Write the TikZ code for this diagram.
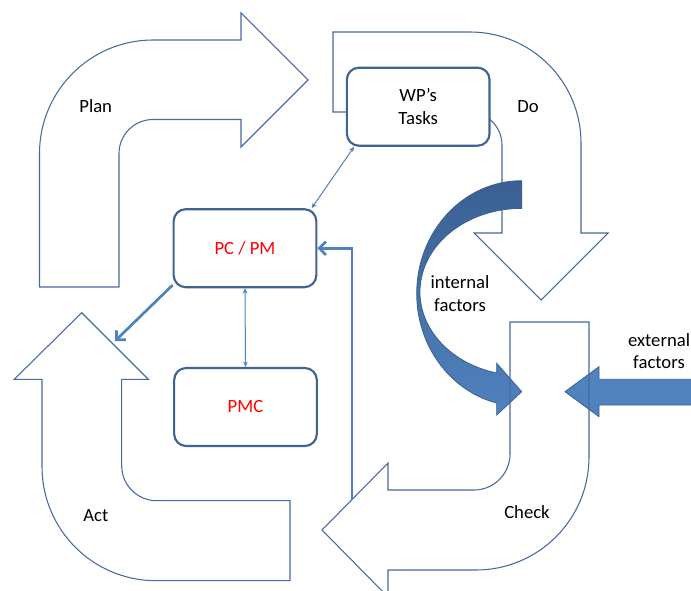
\documentclass[tikz,border=0pt]{standalone}
\usepackage{fontspec}
\setmainfont{Carlito}
\usetikzlibrary{arrows.meta}
\definecolor{flowline}{RGB}{70,106,158}
\definecolor{boxline}{RGB}{63,99,148}
\definecolor{linkblue}{RGB}{79,129,189}
\definecolor{factdark}{RGB}{58,96,146}
\definecolor{factlight}{RGB}{80,130,190}
\definecolor{pmred}{RGB}{255,0,0}
\tikzset{
  flow/.style={draw=flowline, line width=0.8pt, line join=miter},
  box/.style={draw=boxline, line width=1.6pt, rounded corners=9pt, fill=white, minimum width=107pt, minimum height=58.5pt, align=center, font=\fontsize{14}{17}\selectfont},
  word/.style={align=center, font=\fontsize{14}{17}\selectfont},
  link/.style={draw=linkblue, line width=0.75pt, {Stealth[length=4pt,width=3.5pt]}-{Stealth[length=4pt,width=3.5pt]}},
  feed/.style={draw=linkblue, line width=2pt, -{Straight Barb[length=5pt,width=10pt]}},
  factor/.style={draw=factdark, line width=0.6pt}
}

\begin{document}
\begin{tikzpicture}[x=0.75pt, y=-0.75pt]
		%%%%% START %%%%%
		\useasboundingbox (0,0) rectangle (691,591);
		\clip (0,0) rectangle (691,591);
		
		% plan
		\draw[flow] (39.5,287) -- (39.5,153.5) arc (180:270:113.5) -- (241,40) -- (241,13) -- (308,80) -- (241,147) -- (241,119.5) -- (153,119.5) arc (270:180:34) -- (119,287) -- cycle;
		% do
		\draw[flow] (333,112) -- (333,32) -- (470,32) arc (270:360:111) -- (581,233) -- (608,233) -- (541,300) -- (474,233) -- (502,233) -- (502,145) arc (0:-90:33) -- cycle;
		% act
		\draw[flow] (290,500.7) -- (290,580.7) -- (156,580.7) arc (90:180:114) -- (42,379.3) -- (14.3,379.3) -- (81.7,312.7) -- (148.3,379.3) -- (121.7,379.3) -- (121.7,465.7) arc (180:90:35) -- cycle;
		
		% internal / external factors
		\draw[factor, top color=factdark, bottom color=factlight] (521.7,208.3) -- (521.7,180.7) arc[start angle=270, end angle=103.8, x radius=105, y radius=112.8] -- (496.7,415) -- (521.7,391.7) -- (496.7,363.3) -- (496.7,373) arc[start angle=104.2, end angle=270, x radius=101.7, y radius=83.6] -- cycle;
		\draw[factor, fill=factlight] (700,379.3) -- (599,379.3) -- (599,366.7) -- (565,391.7) -- (599,416.7) -- (599,405) -- (700,405);
		
		% check
		\draw[flow] (510,322) -- (589,322) -- (589,457) arc (0:90:113) -- (388,570) -- (388,597) -- (322,530) -- (388,463) -- (388,490) -- (474,490) arc (90:0:36) -- cycle;
		
		\node[box] (wp) at (418.2,106.7) {WP’s\\Tasks};
		\node[box, text=pmred] (pcpm) at (245,248.2) {PC / PM};
		\node[box, text=pmred] (pmc) at (245.5,407) {PMC};
		
		\node[word] (plan) at (95.7,106) {Plan};
		\node[word] (do) at (528,106.5) {Do};
		\node[word] (check) at (527,512.3) {Check};
		\node[word] (act) at (95.8,515.8) {Act};
		\node[word] (intf) at (460,293.5) {internal\\factors};
		\node[word] (extf) at (659,351) {external\\factors};
		
		\coordinate (acttip) at (115,341);
		\coordinate (fb) at (352,499.5);
		
		\draw[link] (pcpm.31) -- (wp.212);
		\draw[link] (pcpm.south) -- (pmc.north);
		\draw[feed] (pcpm.207) -- (acttip);
		\draw[feed] (fb) |- (pcpm.east);
		
		%%%%% END %%%%%
	\end{tikzpicture}
\end{document}
